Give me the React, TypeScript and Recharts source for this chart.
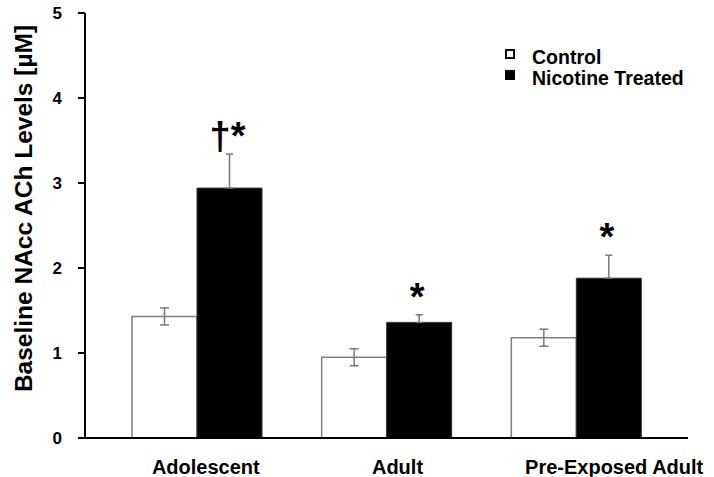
import { BarChart, Bar, XAxis, YAxis, ErrorBar, LabelList, Legend } from "recharts"

const groups = ["Adolescent", "Adult", "Pre-Exposed Adult"]
const controlMeans = [1.43, 0.95, 1.18]
const controlSem = [0.1, 0.1, 0.1]
const nicotineMeans = [2.94, 1.36, 1.88]
const nicotineSem = [0.4, 0.09, 0.27]
const significance = ["†*", "*", "*"]
const yTicks = [0, 1, 2, 3, 4, 5]

const legendItems = [
  { label: "Control", fill: "#fff" },
  { label: "Nicotine Treated", fill: "#000" },
]

const data = groups.map((name, i) => ({
  name,
  control: controlMeans[i],
  controlErr: controlSem[i],
  nicotine: nicotineMeans[i],
  // only the upper half of the error bar is drawn for treated bars
  nicotineErr: [0, nicotineSem[i]],
  sig: significance[i],
}))

const FONT = "'Liberation Sans', Arial, sans-serif"
// the original labels sit a little right of their groups
const TICK_NUDGE = [9, 11, 38]

const CategoryTick = (props: any) => {
  const { x, y, payload, index } = props
  return (
    <text
      x={x + (TICK_NUDGE[index] ?? 0)}
      y={y + 28}
      textAnchor="middle"
      fontFamily={FONT}
      fontWeight="bold"
      fontSize={20}
      fill="#000"
    >
      {payload.value}
    </text>
  )
}

const SigLabel = (props: any) => {
  const { x, y, width, height, index, value } = props
  const perUnit = height / nicotineMeans[index]
  const top = y - nicotineSem[index] * perUnit
  return (
    <text
      x={x + width / 2 - 2}
      y={top - 5}
      textAnchor="middle"
      fontFamily={FONT}
      fontWeight="bold"
      fontSize={38}
      fill="#000"
    >
      {value}
    </text>
  )
}

const YLabel = (props: any) => {
  const { viewBox } = props
  const cx = viewBox.x + 32
  const cy = viewBox.y + viewBox.height / 2 - 17
  return (
    <text
      transform={`translate(${cx},${cy}) rotate(-90)`}
      textAnchor="middle"
      fontFamily={FONT}
      fontWeight="bold"
      fontSize={24.5}
      fill="#000"
    >
      Baseline NAcc ACh Levels [µM]
    </text>
  )
}

const LegendBox = () => (
  <div style={{ fontFamily: FONT, fontWeight: "bold", fontSize: 19.5, lineHeight: "21px", color: "#000" }}>
    {legendItems.map((item) => (
      <div key={item.label} style={{ display: "flex", alignItems: "flex-start", height: 21 }}>
        <span
          style={{
            display: "inline-block",
            width: 10,
            height: 10,
            marginTop: 2,
            marginRight: 17,
            boxSizing: "border-box",
            border: "2px solid #000",
            background: item.fill,
          }}
        />
        <span style={{ whiteSpace: "nowrap" }}>{item.label}</span>
      </div>
    ))}
  </div>
)

export default function App() {
  return (
    <div style={{ position: "absolute", left: 0, top: 0, background: "#fff" }}>
      <BarChart
        width={714}
        height={477}
        data={data}
        margin={{ top: 13, right: 26, bottom: 0, left: 0 }}
        barGap={0}
        barSize={65}
      >
        <XAxis
          dataKey="name"
          height={39}
          padding={{ left: 17, right: 17 }}
          axisLine={{ stroke: "#000", strokeWidth: 2 }}
          tickLine={false}
          tick={<CategoryTick />}
          interval={0}
        />
        <YAxis
          width={85}
          domain={[0, 5]}
          ticks={yTicks}
          axisLine={{ stroke: "#000", strokeWidth: 2 }}
          tickLine={{ stroke: "#000", strokeWidth: 2 }}
          tickSize={7}
          tickMargin={16}
          tick={{ fill: "#000", fontFamily: FONT, fontWeight: "bold", fontSize: 17 }}
          label={{ content: <YLabel /> }}
        />
        <Legend
          layout="vertical"
          align="center"
          verticalAlign="middle"
          content={<LegendBox />}
          wrapperStyle={{ top: 47, left: 505, width: "auto", height: "auto" }}
        />
        <Bar dataKey="control" fill="#fff" stroke="#808080" strokeWidth={1.5} isAnimationActive={false}>
          <ErrorBar dataKey="controlErr" width={4.5} stroke="#777" strokeWidth={1.5} direction="y" />
        </Bar>
        <Bar dataKey="nicotine" fill="#000" stroke="#333" strokeWidth={1} isAnimationActive={false}>
          <ErrorBar dataKey="nicotineErr" width={3.5} stroke="#777" strokeWidth={1.5} direction="y" />
          <LabelList dataKey="sig" content={<SigLabel />} />
        </Bar>
      </BarChart>
    </div>
  )
}
